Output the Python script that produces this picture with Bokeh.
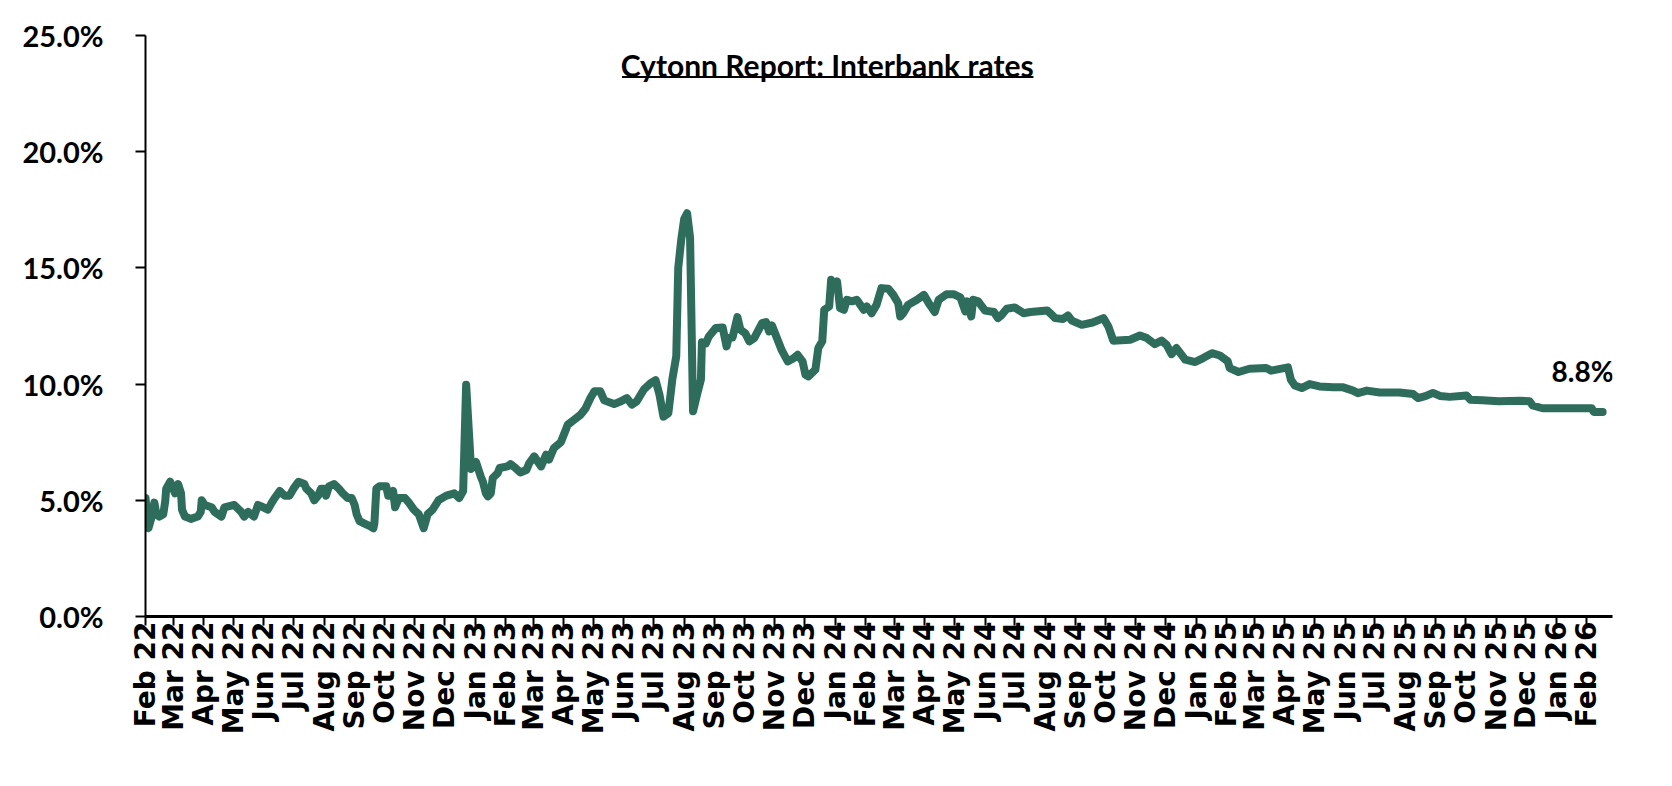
import math
import pandas as pd
from bokeh.plotting import figure
from bokeh.models import FixedTicker, Label, BoxAnnotation, Range1d, PrintfTickFormatter
from bokeh.embed import file_html
from bokeh.resources import INLINE

dates = [
    "2022-02-01", "2022-02-04", "2022-02-07", "2022-02-10", "2022-02-12", "2022-02-15", "2022-02-19",
    "2022-02-21", "2022-02-22", "2022-02-26", "2022-03-01", "2022-03-03", "2022-03-06", "2022-03-09",
    "2022-03-10", "2022-03-13", "2022-03-19", "2022-03-26", "2022-03-29", "2022-03-30", "2022-04-02",
    "2022-04-09", "2022-04-12", "2022-04-19", "2022-04-22", "2022-05-02", "2022-05-09", "2022-05-12",
    "2022-05-16", "2022-05-22", "2022-05-26", "2022-05-29", "2022-06-05", "2022-06-09", "2022-06-12",
    "2022-06-17", "2022-06-22", "2022-06-27", "2022-07-01", "2022-07-06", "2022-07-12", "2022-07-14",
    "2022-07-19", "2022-07-22", "2022-07-26", "2022-07-29", "2022-08-01", "2022-08-03", "2022-08-06",
    "2022-08-11", "2022-08-16", "2022-08-20", "2022-08-25", "2022-08-29", "2022-09-01", "2022-09-03",
    "2022-09-06", "2022-09-11", "2022-09-16", "2022-09-20", "2022-09-21", "2022-09-23", "2022-09-26",
    "2022-10-03", "2022-10-05", "2022-10-08", "2022-10-10", "2022-10-12", "2022-10-16", "2022-10-22",
    "2022-10-26", "2022-10-31", "2022-11-05", "2022-11-10", "2022-11-14", "2022-11-19", "2022-11-25",
    "2022-12-03", "2022-12-11", "2022-12-16", "2022-12-20", "2022-12-23", "2022-12-28",
    "2023-01-02", "2023-01-07", "2023-01-09", "2023-01-12", "2023-01-14", "2023-01-17", "2023-01-19",
    "2023-01-24", "2023-01-26", "2023-02-03", "2023-02-06", "2023-02-11", "2023-02-16", "2023-02-22",
    "2023-02-25", "2023-03-02", "2023-03-09", "2023-03-14", "2023-03-17", "2023-03-22", "2023-03-29",
    "2023-04-01", "2023-04-05", "2023-04-11", "2023-04-18", "2023-04-23", "2023-04-28", "2023-05-02",
    "2023-05-08", "2023-05-12", "2023-05-22", "2023-05-29", "2023-06-04", "2023-06-09", "2023-06-14",
    "2023-06-21", "2023-06-28", "2023-07-03", "2023-07-07", "2023-07-11", "2023-07-16", "2023-07-20",
    "2023-07-24", "2023-07-26", "2023-07-29", "2023-08-01", "2023-08-04", "2023-08-07", "2023-08-10",
    "2023-08-14", "2023-08-18", "2023-08-19", "2023-08-23", "2023-08-26", "2023-09-02", "2023-09-09",
    "2023-09-13", "2023-09-15", "2023-09-19", "2023-09-24", "2023-09-27", "2023-10-02", "2023-10-06",
    "2023-10-11", "2023-10-19", "2023-10-23", "2023-10-26", "2023-10-29", "2023-11-03", "2023-11-08",
    "2023-11-14", "2023-11-19", "2023-11-24", "2023-11-29", "2023-12-02", "2023-12-05", "2023-12-12",
    "2023-12-15", "2023-12-19", "2023-12-21", "2023-12-26", "2023-12-28", "2023-12-31",
    "2024-01-03", "2024-01-06", "2024-01-10", "2024-01-13", "2024-01-18", "2024-01-23", "2024-01-30",
    "2024-02-02", "2024-02-07", "2024-02-12", "2024-02-17", "2024-02-24", "2024-02-29", "2024-03-05",
    "2024-03-07", "2024-03-10", "2024-03-15", "2024-03-24", "2024-03-31", "2024-04-06", "2024-04-11",
    "2024-04-15", "2024-04-23", "2024-04-30", "2024-05-07", "2024-05-12", "2024-05-14", "2024-05-18",
    "2024-05-20", "2024-05-25", "2024-06-01", "2024-06-10", "2024-06-14", "2024-06-18", "2024-06-23",
    "2024-07-01", "2024-07-10", "2024-07-17", "2024-08-03", "2024-08-06", "2024-08-11", "2024-08-19",
    "2024-08-24", "2024-08-28", "2024-09-07", "2024-09-18", "2024-09-29", "2024-10-04", "2024-10-09",
    "2024-10-26", "2024-11-05", "2024-11-12", "2024-11-20", "2024-11-27", "2024-12-02", "2024-12-07",
    "2024-12-12", "2024-12-21", "2024-12-31",
    "2025-01-08", "2025-01-17", "2025-01-25", "2025-02-02", "2025-02-04", "2025-02-13", "2025-02-24",
    "2025-03-13", "2025-03-18", "2025-04-04", "2025-04-07", "2025-04-11", "2025-04-18", "2025-04-26",
    "2025-05-06", "2025-05-20", "2025-05-30", "2025-06-09", "2025-06-14", "2025-06-23", "2025-07-06",
    "2025-07-26", "2025-08-09", "2025-08-14", "2025-08-22", "2025-08-29", "2025-09-05", "2025-09-15",
    "2025-10-02", "2025-10-06", "2025-10-18", "2025-11-04", "2025-11-25", "2025-12-05", "2025-12-08",
    "2025-12-18", "2026-01-14", "2026-02-06", "2026-02-08", "2026-02-17",
]

rates = [
    5.1, 3.8, 4.24, 4.9, 4.4, 4.3, 4.4,
    4.96, 5.5, 5.8, 5.5, 5.3, 5.7, 5.3,
    4.6, 4.3, 4.2, 4.3, 4.5, 5.0, 4.8,
    4.7, 4.5, 4.3, 4.7, 4.8, 4.5, 4.3,
    4.5, 4.3, 4.8, 4.75, 4.6, 4.9, 5.1,
    5.4, 5.2, 5.2, 5.5, 5.8, 5.7, 5.5,
    5.3, 5.0, 5.2, 5.5, 5.5, 5.2, 5.6,
    5.7, 5.5, 5.3, 5.1, 5.1, 4.8, 4.4,
    4.1, 4.0, 3.9, 3.8, 4.0, 5.5, 5.6,
    5.6, 5.2, 5.2, 5.4, 4.7, 5.1, 5.1,
    4.9, 4.6, 4.4, 3.8, 4.4, 4.6, 5.0,
    5.2, 5.3, 5.1, 5.4, 9.97, 6.35,
    6.65, 6.0, 5.8, 5.3, 5.17, 5.3, 5.96,
    6.17, 6.39, 6.46, 6.56, 6.39, 6.2, 6.3,
    6.6, 6.89, 6.46, 6.96, 6.75, 7.25, 7.5,
    7.82, 8.25, 8.45, 8.68, 8.95, 9.4, 9.69,
    9.69, 9.3, 9.14, 9.26, 9.4, 9.12, 9.26,
    9.76, 10.04, 10.17, 9.54, 8.6, 8.75, 10.2,
    11.2, 15.0, 16.2, 17.1, 17.35, 16.3, 8.83,
    9.54, 10.2, 11.8, 11.75, 12.05, 12.41, 12.44,
    11.62, 11.98, 12.0, 12.88, 12.34, 12.19, 11.84,
    11.98, 12.62, 12.67, 12.27, 12.52, 11.98, 11.45,
    10.98, 11.09, 11.26, 10.98, 10.4, 10.33, 10.62,
    11.55, 11.84, 13.2, 13.34, 14.49, 14.13,
    14.42, 13.27, 13.2, 13.63, 13.56, 13.63, 13.2,
    13.34, 13.05, 13.41, 14.13, 14.1, 13.84, 13.48,
    12.91, 13.05, 13.41, 13.63, 13.84, 13.41, 13.1,
    13.63, 13.87, 13.87, 13.73, 13.13, 13.56, 12.91,
    13.63, 13.56, 13.16, 13.1, 12.84, 12.98, 13.24,
    13.3, 13.05, 13.1, 13.17, 13.05, 12.84, 12.8,
    12.95, 12.73, 12.55, 12.65, 12.84, 12.48, 11.87,
    11.91, 12.09, 11.98, 11.72, 11.87, 11.69, 11.29,
    11.55, 11.05, 10.95,
    11.12, 11.33, 11.23, 10.98, 10.69, 10.52, 10.66,
    10.69, 10.58, 10.72, 10.19, 9.94, 9.83, 10.0,
    9.9, 9.86, 9.86, 9.72, 9.61, 9.72, 9.64,
    9.64, 9.57, 9.4, 9.49, 9.62, 9.49, 9.45,
    9.51, 9.33, 9.3, 9.26, 9.28, 9.26, 9.08,
    8.96, 8.96, 8.96, 8.8, 8.8,
]

tick_dates = [
    "2022-02-01", "2022-03-01", "2022-04-01", "2022-05-01", "2022-06-01", "2022-07-01", "2022-08-01",
    "2022-09-01", "2022-10-01", "2022-11-01", "2022-12-01", "2023-01-01", "2023-02-01", "2023-03-01",
    "2023-04-01", "2023-05-01", "2023-06-01", "2023-07-01", "2023-08-01", "2023-09-01", "2023-10-01",
    "2023-11-01", "2023-12-01", "2024-01-01", "2024-02-01", "2024-03-01", "2024-04-01", "2024-05-01",
    "2024-06-01", "2024-07-01", "2024-08-01", "2024-09-01", "2024-10-01", "2024-11-01", "2024-12-01",
    "2025-01-01", "2025-02-01", "2025-03-01", "2025-04-01", "2025-05-01", "2025-06-01", "2025-07-01",
    "2025-08-01", "2025-09-01", "2025-10-01", "2025-11-01", "2025-12-01", "2026-01-01", "2026-02-01",
]
tick_labels = [
    "Feb 22", "Mar 22", "Apr 22", "May 22", "Jun 22", "Jul 22", "Aug 22", "Sep 22", "Oct 22", "Nov 22",
    "Dec 22", "Jan 23", "Feb 23", "Mar 23", "Apr 23", "May 23", "Jun 23", "Jul 23", "Aug 23", "Sep 23",
    "Oct 23", "Nov 23", "Dec 23", "Jan 24", "Feb 24", "Mar 24", "Apr 24", "May 24", "Jun 24", "Jul 24",
    "Aug 24", "Sep 24", "Oct 24", "Nov 24", "Dec 24", "Jan 25", "Feb 25", "Mar 25", "Apr 25", "May 25",
    "Jun 25", "Jul 25", "Aug 25", "Sep 25", "Oct 25", "Nov 25", "Dec 25", "Jan 26", "Feb 26",
]
y_ticks = [0, 5, 10, 15, 20, 25]
title_text = "Cytonn Report: Interbank rates"
last_label = "8.8%"


def ms(d):
    return float((pd.Timestamp(d) - pd.Timestamp("1970-01-01")) // pd.Timedelta(milliseconds=1))


xs = [ms(d) for d in dates]
tick_ms = [ms(d) for d in tick_dates]

GREEN = "#2e6d5c"

p = figure(width=1656, height=770, output_backend="svg", toolbar_location=None,
           x_range=Range1d(ms("2022-02-01"), ms("2026-02-27")), y_range=Range1d(0, 25),
           min_border_left=145, min_border_right=44, min_border_top=35, min_border_bottom=154)
p.outline_line_color = None
p.grid.visible = False
p.background_fill_color = "white"

p.line(xs, rates, line_width=8, color=GREEN, line_join="round", line_cap="round")

# x axis
p.xaxis.ticker = FixedTicker(ticks=tick_ms)
p.xaxis.major_label_overrides = {t: lab for t, lab in zip(tick_ms, tick_labels)}
p.xaxis.major_label_orientation = math.pi / 2
p.xaxis.major_label_text_font = "DejaVu Sans"
p.xaxis.major_label_text_font_style = "bold"
p.xaxis.major_label_text_font_size = "28px"
p.xaxis.major_label_text_color = "black"
p.xaxis.major_label_standoff = -4
p.xaxis.axis_line_width = 3
p.xaxis.axis_line_color = "black"
p.xaxis.major_tick_line_width = 2
p.xaxis.major_tick_in = 0
p.xaxis.major_tick_out = 9
p.xaxis.minor_tick_line_color = None

# y axis
p.yaxis.ticker = FixedTicker(ticks=y_ticks)
p.yaxis.formatter = PrintfTickFormatter(format="%.1f%%")
p.yaxis.major_label_text_font = "Lato"
p.yaxis.major_label_text_font_style = "bold"
p.yaxis.major_label_text_font_size = "29px"
p.yaxis.major_label_text_color = "black"
p.yaxis.major_label_standoff = 32
p.yaxis.axis_line_width = 2
p.yaxis.axis_line_color = "black"
p.yaxis.major_tick_line_width = 2
p.yaxis.major_tick_in = 0
p.yaxis.major_tick_out = 10
p.yaxis.minor_tick_line_color = None

# title inside plot area, underlined
p.add_layout(Label(x=ms("2023-12-24"), y=23.71, text=title_text, text_align="center",
                   text_baseline="alphabetic", text_font="Lato", text_font_style="bold",
                   text_font_size="30px", text_color="black"))
p.add_layout(BoxAnnotation(left=ms("2023-05-30"), right=ms("2024-07-20"), bottom=23.17, top=23.26,
                           fill_color="black", fill_alpha=1.0, line_color=None))

# last value label
p.add_layout(Label(x=xs[-1], y=rates[-1], text=last_label, text_align="center",
                   text_baseline="alphabetic", x_offset=-20, y_offset=41, text_font="Lato",
                   text_font_style="bold", text_font_size="28px", text_color="black"))

open("out.html", "w").write(file_html(p, INLINE))
